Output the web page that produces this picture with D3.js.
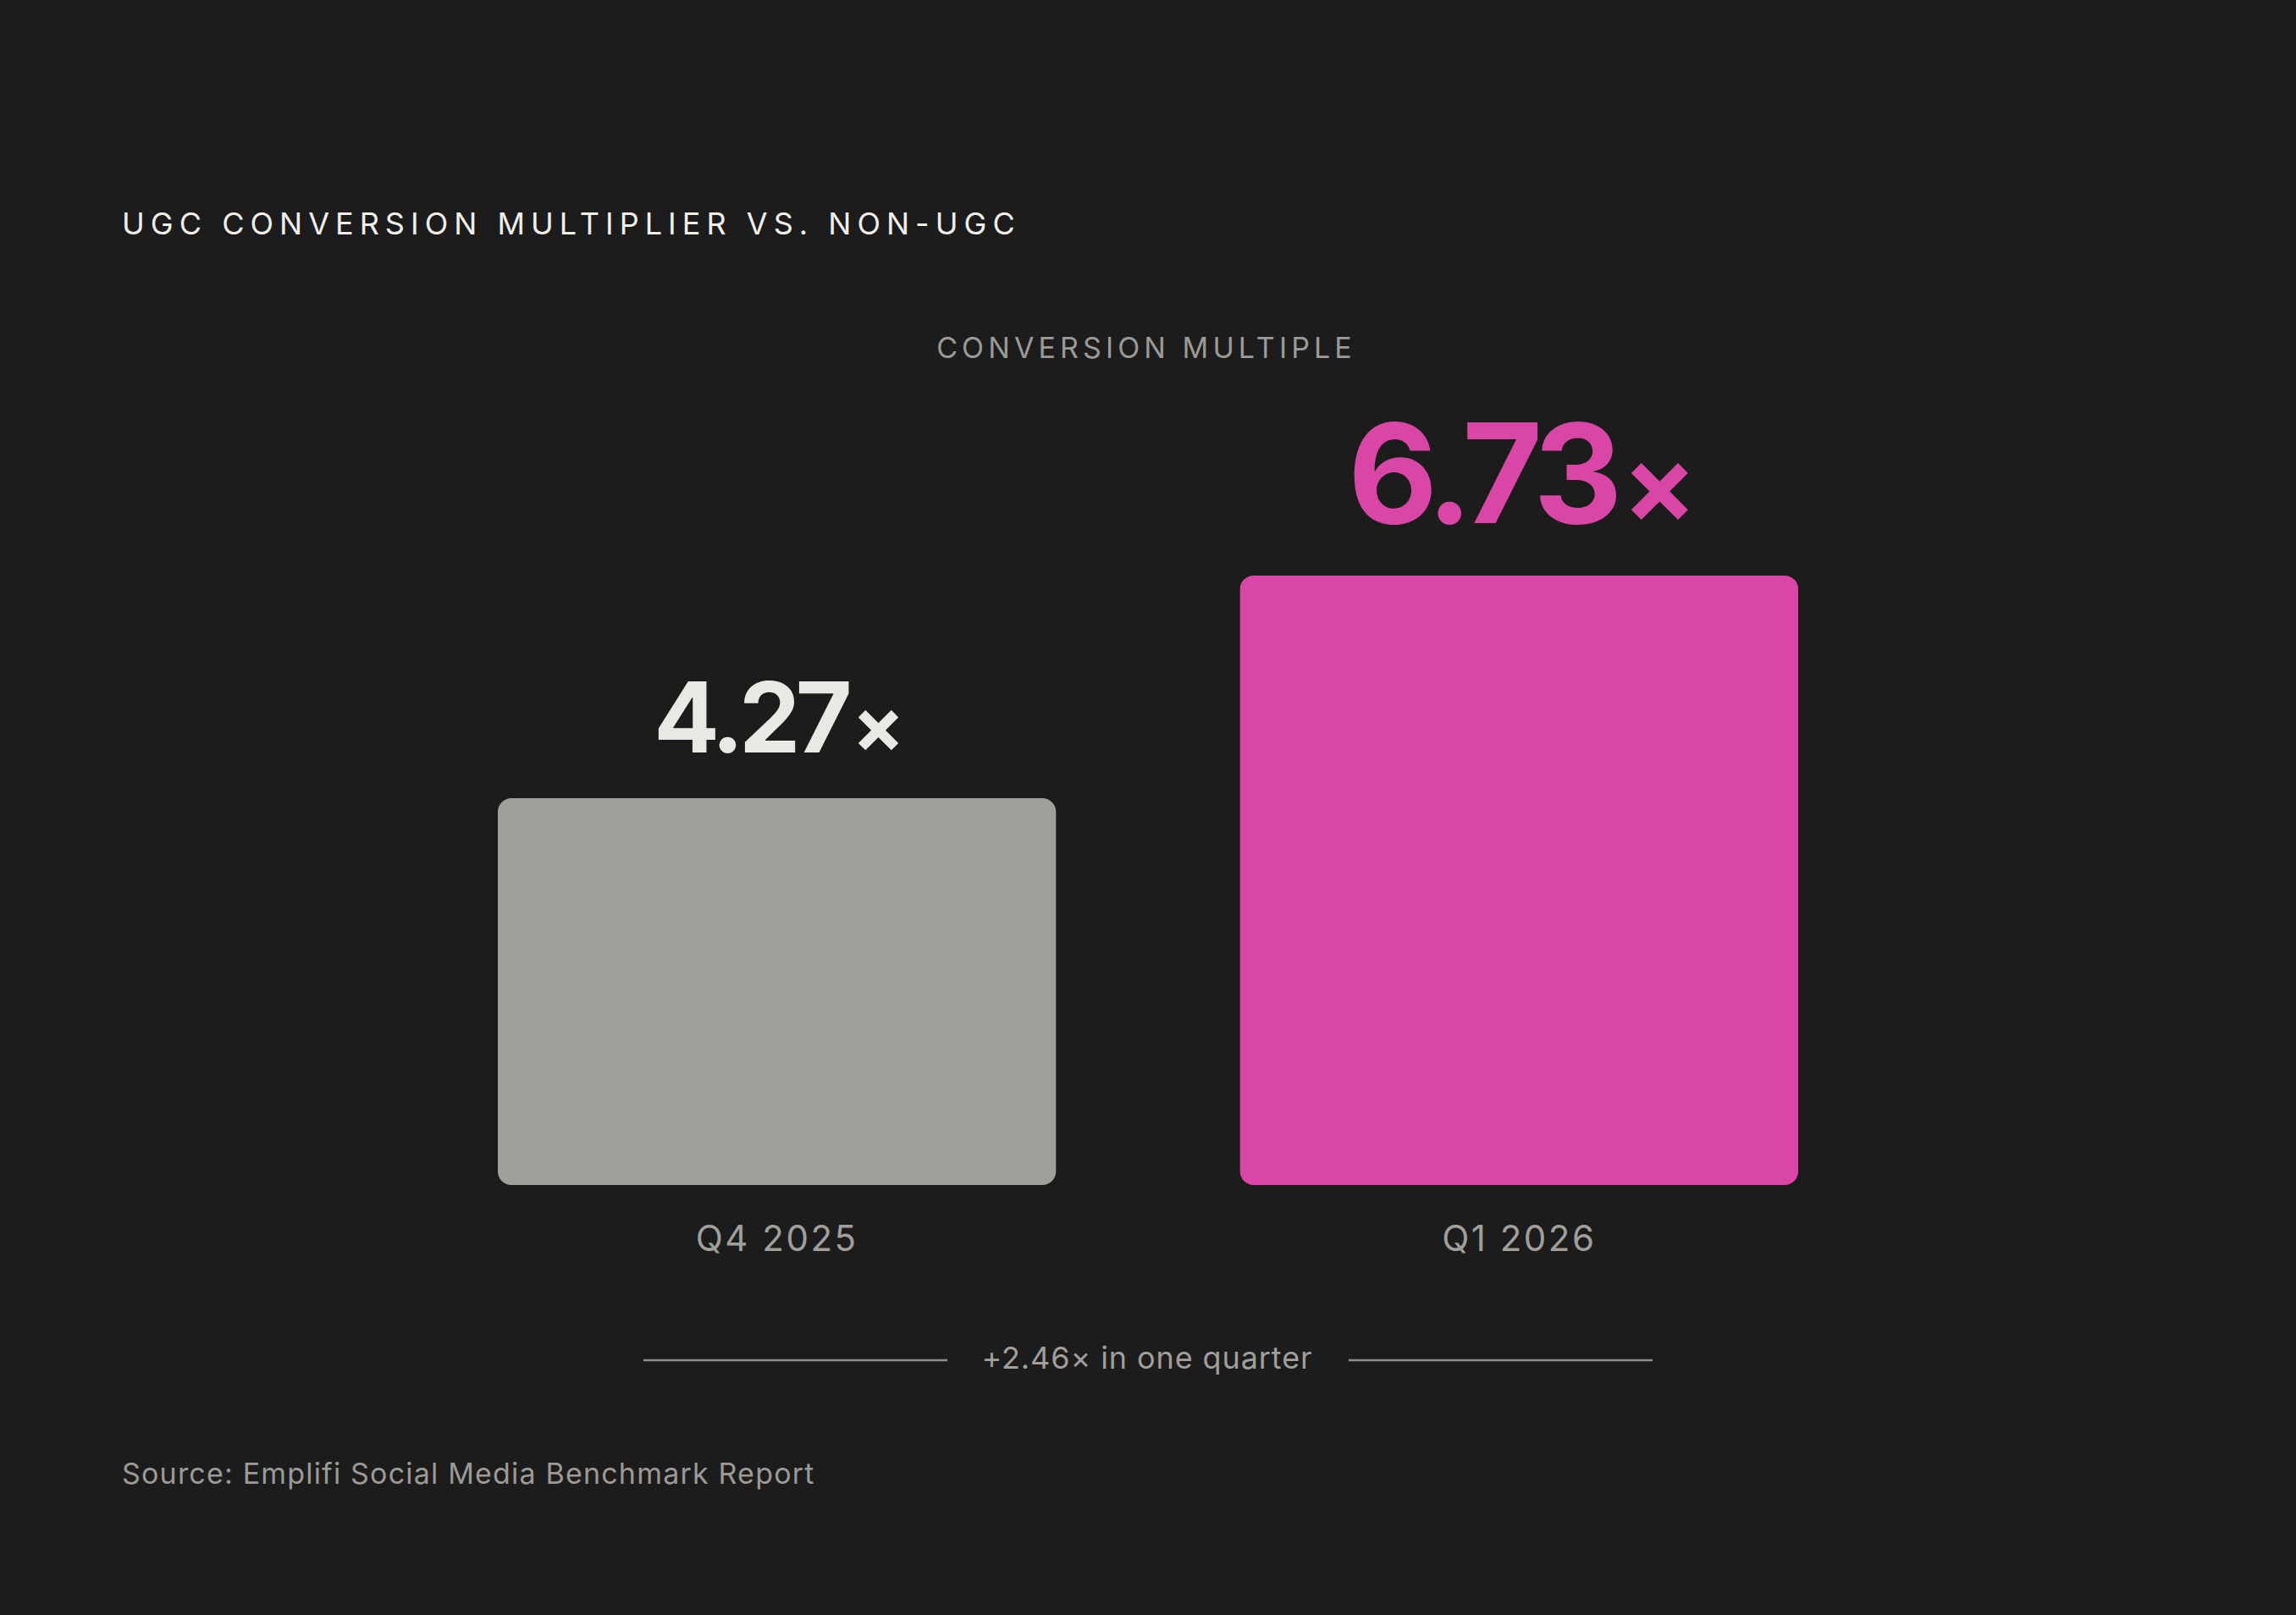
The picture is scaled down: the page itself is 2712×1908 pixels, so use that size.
<!DOCTYPE html>
<html>
  <head>
    <title>UGC Conversion Multiplier</title>
    <script src="https://cdn.jsdelivr.net/npm/d3@7"></script>
    <style>
      body { margin: 0; background: #1c1c1c; }
      text { font-family: Inter, "DejaVu Sans", sans-serif; }
    </style>
  </head>
  <body>
    <svg width="2712" height="1908" id="mainsvg"></svg>
    <script>
        // data
        const quarters = ['Q4 2025', 'Q1 2026'];
        const multiples = [4.27, 6.73];
        const changeNote = '+2.46× in one quarter';

        const title = 'UGC CONVERSION MULTIPLIER VS. NON-UGC';
        const axisTitle = 'CONVERSION MULTIPLE';
        const source = 'Source: Emplifi Social Media Benchmark Report';

        const svg = d3.select('#mainsvg');
        const width = +svg.attr('width');
        const height = +svg.attr('height');

        svg.append('rect').attr('width', width).attr('height', height).attr('fill', '#1c1c1c');

        const baseY = 1400;
        const xScale = d3.scaleBand()
          .domain(quarters)
          .range([588, 2124])
          .paddingInner(0.248)
          .paddingOuter(0);

        const yScale = d3.scaleLinear()
          .domain([0, 7])
          .range([baseY, baseY - 7 * 107]);

        const fmt = d3.format('.2f');
        const barColors = ['#a09f9a', '#d946a6'];
        const labelColors = ['#e9e8e2', '#d946a6'];
        const labelSizes = [115, 163];
        const labelGaps = [54, 62];

        // title
        svg.append('text').text(title)
          .attr('x', 144).attr('y', 277)
          .attr('font-size', 36).attr('fill', '#efeee8')
          .attr('letter-spacing', '0.195em');

        svg.append('text').text(axisTitle)
          .attr('x', 1354).attr('y', 423)
          .attr('text-anchor', 'middle')
          .attr('font-size', 34).attr('fill', '#9b9a96')
          .attr('letter-spacing', '0.15em');

        const g = svg.append('g');

        g.selectAll('rect.bar')
          .data(quarters)
          .join('rect')
          .attr('class', 'bar')
          .attr('x', d => xScale(d))
          .attr('width', xScale.bandwidth())
          .attr('y', (d, i) => yScale(multiples[i]))
          .attr('height', (d, i) => baseY - yScale(multiples[i]))
          .attr('rx', 16)
          .attr('fill', (d, i) => barColors[i]);

        const vals = g.selectAll('text.value')
          .data(quarters)
          .join('text')
          .attr('class', 'value')
          .attr('x', d => xScale(d) + xScale.bandwidth() / 2)
          .attr('y', (d, i) => yScale(multiples[i]) - labelGaps[i])
          .attr('text-anchor', 'middle')
          .attr('font-size', (d, i) => labelSizes[i])
          .attr('font-weight', 700)
          .attr('letter-spacing', '-0.05em')
          .attr('fill', (d, i) => labelColors[i]);
        vals.append('tspan').text((d, i) => fmt(multiples[i]));
        vals.append('tspan').text('×').attr('font-size', '0.8em').attr('dx', '0.06em');

        g.selectAll('text.cat')
          .data(quarters)
          .join('text')
          .attr('class', 'cat')
          .text(d => d)
          .attr('x', d => xScale(d) + xScale.bandwidth() / 2)
          .attr('y', baseY + 78)
          .attr('text-anchor', 'middle')
          .attr('font-size', 42)
          .attr('letter-spacing', '0.06em')
          .attr('fill', '#a09f9b');

        // change note with rules
        const noteY = 1607;
        svg.append('line').attr('x1', 760).attr('x2', 1119).attr('y1', noteY).attr('y2', noteY)
          .attr('stroke', '#8f8e8a').attr('stroke-width', 2.5);
        svg.append('line').attr('x1', 1593).attr('x2', 1952).attr('y1', noteY).attr('y2', noteY)
          .attr('stroke', '#8f8e8a').attr('stroke-width', 2.5);
        svg.append('text').text(changeNote)
          .attr('x', 1355).attr('y', 1617)
          .attr('text-anchor', 'middle')
          .attr('font-size', 36).attr('fill', '#a09f9b')
          .attr('letter-spacing', '0.025em');

        svg.append('text').text(source)
          .attr('x', 144).attr('y', 1753)
          .attr('font-size', 34).attr('fill', '#9b9a96')
          .attr('letter-spacing', '0.035em');
    </script>
  </body>
</html>
